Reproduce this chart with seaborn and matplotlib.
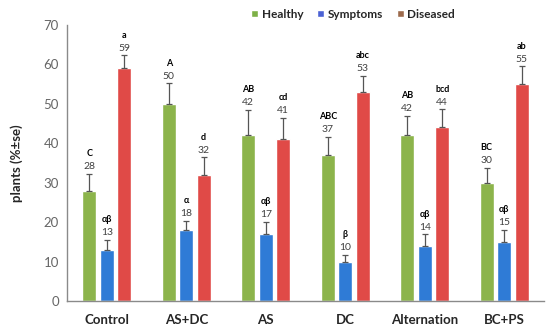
import pandas as pd
import matplotlib
matplotlib.use('Agg')
import matplotlib.pyplot as plt
from matplotlib.patches import Patch
import seaborn as sns

# data
treatments = ['Control', 'AS+DC', 'AS', 'DC', 'Alternation', 'BC+PS']
series = ['Healthy', 'Symptoms', 'Diseased']

healthy = [28, 50, 42, 37, 42, 30]
symptoms = [13, 18, 17, 10, 14, 15]
diseased = [59, 32, 41, 53, 44, 55]

healthy_se = [4.3, 5.2, 6.4, 4.6, 5.0, 3.8]
symptoms_se = [2.5, 2.4, 3.0, 1.7, 2.9, 3.0]
diseased_se = [3.3, 4.4, 5.5, 4.1, 4.6, 4.5]

healthy_letters = ['C', 'A', 'AB', 'ABC', 'AB', 'BC']
symptoms_letters = ['αβ', 'α', 'αβ', 'β', 'αβ', 'αβ']
diseased_letters = ['a', 'd', 'cd', 'abc', 'bcd', 'ab']

bar_colors = ['#8cb44b', '#2f7bd6', '#e04a47']
legend_colors = ['#7db046', '#4b62d4', '#9c6a4c']

df = pd.DataFrame({
    'treatment': treatments * 3,
    'group': [s for s in series for _ in treatments],
    'value': healthy + symptoms + diseased,
})
errors = [healthy_se, symptoms_se, diseased_se]
letters = [healthy_letters, symptoms_letters, diseased_letters]
values = [healthy, symptoms, diseased]

sns.set_style('white')
plt.rcParams['font.family'] = ['Lato', 'DejaVu Sans']

fig = plt.figure(figsize=(5.5, 3.32), dpi=100)
ax = fig.add_axes([0.122, 0.093, 0.867, 0.832])

sns.barplot(data=df, x='treatment', y='value', hue='group', order=treatments,
            hue_order=series, palette=bar_colors, width=0.66, gap=0.2,
            saturation=1, errorbar=None, legend=False, ax=ax)

# error bars and labels on top of each bar
bar_containers = list(ax.containers)
for i, cont in enumerate(bar_containers):
    for j, bar in enumerate(cont):
        x = bar.get_x() + bar.get_width() / 2
        h = values[i][j]
        e = errors[i][j]
        ax.errorbar(x, h, yerr=[[0], [e]], color='#555555', lw=0.9,
                    capsize=2, capthick=0.9)
        ax.text(x, h + e + 0.7, str(h), ha='center', va='bottom',
                fontsize=7.5, color='#404040')
        ax.text(x, h + e + 4.0, letters[i][j], ha='center', va='bottom',
                fontsize=6.5, fontweight='bold', color='black')

ax.set_xlim(-0.5, 5.5)
ax.set_ylim(0, 70)
ax.set_yticks(range(0, 71, 10))
ax.set_xlabel('')
ax.set_ylabel('plants (%±se)', fontsize=9.5, fontweight='bold', labelpad=15)
ax.tick_params(axis='y', labelsize=9.5, labelcolor='#666666', length=0, pad=6)
ax.tick_params(axis='x', labelsize=9.5, length=0, pad=9)
for lab in ax.get_xticklabels():
    lab.set_fontweight('bold')

for side in ['top', 'right']:
    ax.spines[side].set_visible(False)
for side in ['left', 'bottom']:
    ax.spines[side].set_color('#8a8a8a')
    ax.spines[side].set_linewidth(1)

handles = [Patch(facecolor=c, label=s) for c, s in zip(legend_colors, series)]
leg = fig.legend(handles=handles, loc='center', bbox_to_anchor=(0.642, 0.957),
                 ncol=3, frameon=False, handlelength=0.6, handleheight=0.6,
                 handletextpad=0.3, columnspacing=1.15, prop={'size': 8.5, 'weight': 'bold'})

fig.savefig('out.png', dpi=100)
